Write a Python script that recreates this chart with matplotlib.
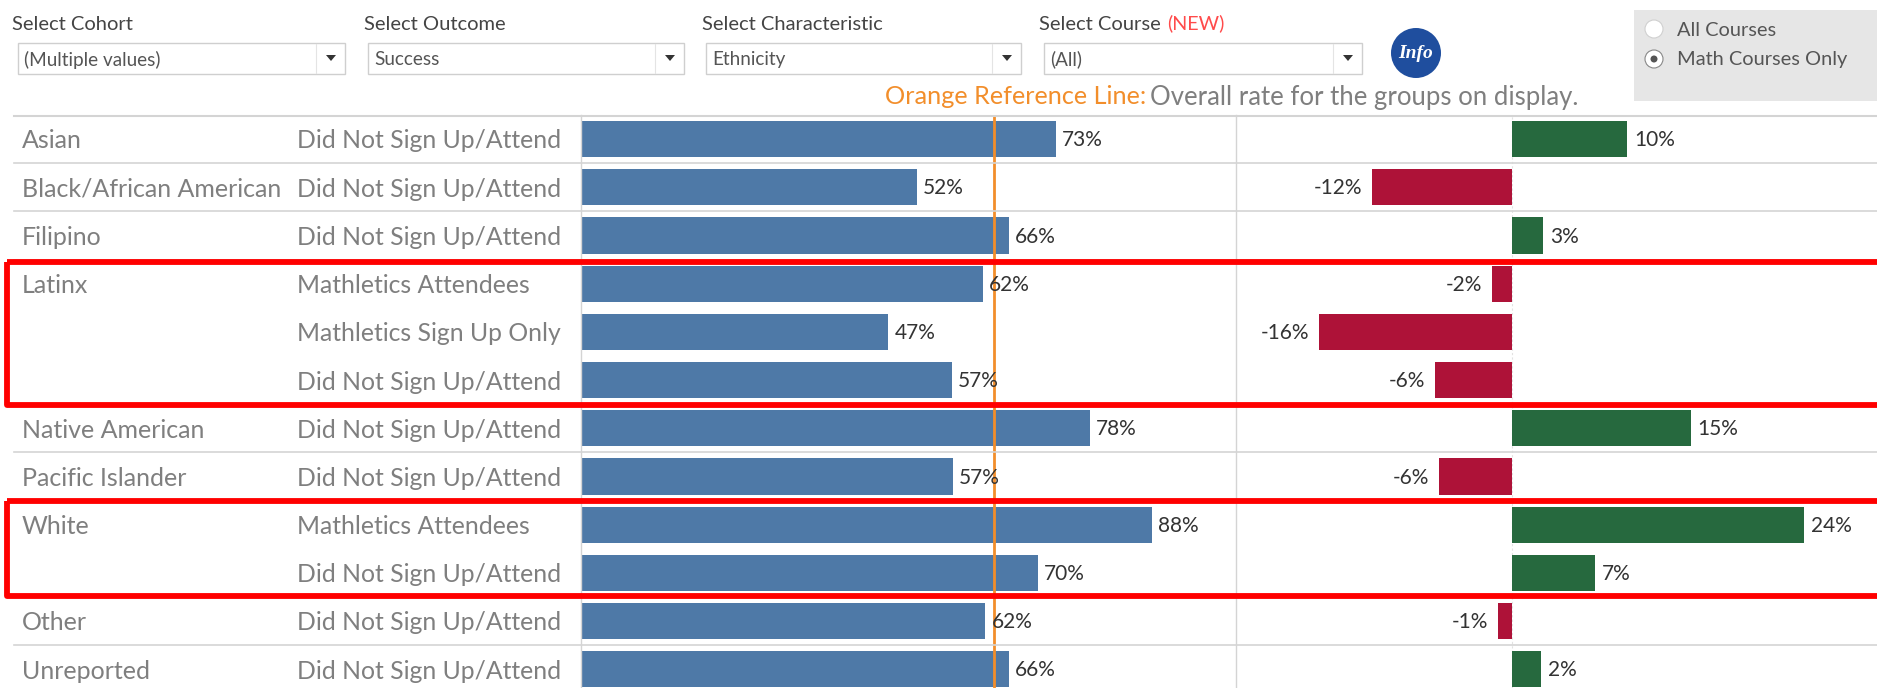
import matplotlib
matplotlib.use('Agg')
import matplotlib.pyplot as plt
from matplotlib.patches import Rectangle, Circle, Polygon

plt.rcParams['font.family'] = ['Lato', 'DejaVu Sans']

groups = ['Asian', 'Black/African American', 'Filipino', 'Latinx', '', '', 'Native American',
          'Pacific Islander', 'White', '', 'Other', 'Unreported']
attend = ['Did Not Sign Up/Attend', 'Did Not Sign Up/Attend', 'Did Not Sign Up/Attend',
          'Mathletics Attendees', 'Mathletics Sign Up Only', 'Did Not Sign Up/Attend',
          'Did Not Sign Up/Attend', 'Did Not Sign Up/Attend', 'Mathletics Attendees',
          'Did Not Sign Up/Attend', 'Did Not Sign Up/Attend', 'Did Not Sign Up/Attend']
rate = [73.3, 51.8, 66.0, 62.0, 47.4, 57.2, 78.49, 57.4, 88.1, 70.45, 62.4, 66.0]
diff = [9.6, -11.7, 2.6, -1.7, -16.1, -6.4, 14.9, -6.1, 24.3, 6.9, -1.2, 2.4]
overall = 63.7

W, H = 1877, 688
BLUE = '#4e79a7'
GREEN = '#26693e'
RED = '#ae1238'
ORANGE = '#f28e2b'
GRID = '#d4d4d4'
TXT = '#7f7f7f'

fig = plt.figure(figsize=(W / 100, H / 100), dpi=100)


def pane(x0, x1):
    ax = fig.add_axes([x0 / W, 0, (x1 - x0) / W, (H - 115) / H], zorder=1)
    ax.set_ylim(11.39, -0.5)
    ax.axis('off')
    return ax


# rate bars
ax1 = pane(581, 1236)
ax1.set_xlim(0, 655 / 6.48)
ax1.barh(range(len(rate)), rate, height=0.75, color=BLUE)
ax1.axvline(overall, color=ORANGE, lw=2)
for i, v in enumerate(rate):
    ax1.annotate(f'{v:.0f}%', (v, i), xytext=(4.5, -0.8), textcoords='offset points',
                 va='center', fontsize=15, color='#333333')

# difference bars
ax2 = pane(1236, W)
ax2.set_xlim(-276 / 12, (W - 1512) / 12)
ax2.axvline(0, color='#e2e2e2', lw=0.8, ls=(0, (2, 2)), zorder=0)
ax2.barh(range(len(diff)), diff, height=0.75, color=[GREEN if d > 0 else RED for d in diff])
for i, d in enumerate(diff):
    off = 5 if d > 0 else -7
    ax2.annotate(f'{d:.0f}%', (d, i), xytext=(off, -0.8), textcoords='offset points', va='center',
                 ha='left' if d > 0 else 'right', fontsize=15, color='#333333')

# everything else in pixel coords
ov = fig.add_axes([0, 0, 1, 1], zorder=2)
ov.set_xlim(0, W)
ov.set_ylim(H, 0)
ov.axis('off')

row0, step = 139, 48.2
ov.plot([14, W], [115.5, 115.5], color=GRID, lw=1.5)
for i in range(11):
    if groups[i + 1] != '':
        y = row0 + step * (i + 0.5)
        ov.plot([14, W], [y, y], color=GRID, lw=1.2)
ov.plot([581, 581], [115, H], color=GRID, lw=1)
ov.plot([1236, 1236], [115, H], color=GRID, lw=1)

for i in range(len(groups)):
    y = row0 + step * i + 2
    ov.text(22, y, groups[i], va='center', fontsize=18, color=TXT)
    ov.text(297, y, attend[i], va='center', fontsize=17.8, color=TXT)

for y0, y1 in [(262, 405), (501, 596)]:
    ov.add_patch(Rectangle((7, y0), W + 20, y1 - y0, fill=False, ec='#ff0000', lw=4.2,
                           joinstyle='round', zorder=5))

# filters
filters = [('Select Cohort', '(Multiple values)', 12, 18, 345),
           ('Select Outcome', 'Success', 364, 368, 684),
           ('Select Characteristic', 'Ethnicity', 702, 706, 1021),
           ('Select Course', '(All)', 1039, 1044, 1362)]
for name, val, tx, x0, x1 in filters:
    ov.text(tx, 24.5, name, va='center', fontsize=14.5, color='#444444')
    ov.add_patch(Rectangle((x0, 43), x1 - x0, 31, fc='white', ec='#cfcfcf', lw=1))
    ov.plot([x1 - 29, x1 - 29], [44, 73], color='#e4e4e4', lw=0.8)
    ov.text(x0 + 6, 59.5, val, va='center', fontsize=13.6, color='#555555')
    ov.add_patch(Polygon([[x1 - 19, 55], [x1 - 9, 55], [x1 - 14, 61]], fc='#333333', ec='none'))
ov.text(1167, 23, '(NEW)', va='center', fontsize=14.2, color='#ff4b4b')

ov.add_patch(Circle((1416, 53), 25, fc='#1f4e9e', ec='none'))
ov.text(1416, 53, 'Info', ha='center', va='center', fontsize=14, color='white',
        family='Liberation Serif', style='italic', weight='bold')

ov.text(885, 97, 'Orange Reference Line:', va='center', fontsize=18.2, color=ORANGE)
ov.text(1150, 97, 'Overall rate for the groups on display.', va='center', fontsize=18.55, color=TXT)

# radio panel
ov.add_patch(Rectangle((1634, 10), 243, 91, fc='#e6e6e6', ec='none'))
ov.add_patch(Circle((1654, 29), 9, fc='white', ec='#d0d0d0', lw=0.8))
ov.add_patch(Circle((1654, 59), 9, fc='white', ec='#888888', lw=0.8))
ov.add_patch(Circle((1654, 59), 3.5, fc='#555555', ec='none'))
ov.text(1677, 30, 'All Courses', va='center', fontsize=14.4, color='#555555')
ov.text(1677, 60, 'Math Courses Only', va='center', fontsize=14.4, color='#555555')

fig.savefig('out.png', dpi=100, facecolor='white')
